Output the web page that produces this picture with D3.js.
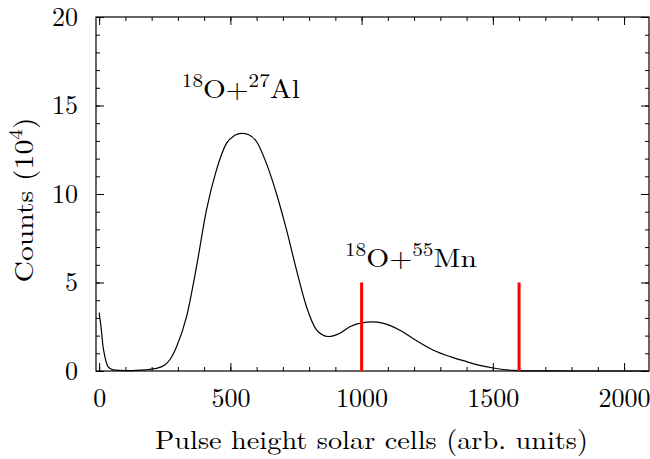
<!DOCTYPE html>
<html>
<head>
<meta charset="utf-8">
<script src="https://cdn.jsdelivr.net/npm/d3@7/dist/d3.min.js"></script>
<style>
  html, body { margin: 0; padding: 0; background: #fff; }
  svg { display: block; }
  text { font-family: "Latin Modern Roman", "CMU Serif", "Liberation Serif", serif; fill: #000; }
</style>
</head>
<body>
<svg id="chart" width="650" height="459"></svg>
<script>
// ---- data ----
const pulseHeight = [0, 7, 15, 22, 34, 53, 80, 110, 140, 174, 212, 250, 270, 295, 333, 371, 409, 447, 485, 515, 543, 570, 600, 638, 676, 714, 752, 790, 828, 850, 873, 895, 917, 955, 1000, 1040, 1080, 1146, 1200, 1272, 1340, 1400, 1450, 1501, 1550, 1577, 1620, 1700, 1800, 1900, 2000, 2090];
const counts = [3.3, 2.5, 1.37, 0.8, 0.25, 0.06, 0.03, 0.02, 0.03, 0.06, 0.13, 0.34, 0.65, 1.37, 3.07, 5.9, 9.1, 11.36, 12.86, 13.3, 13.43, 13.35, 12.95, 11.7, 10.0, 7.97, 5.7, 3.63, 2.32, 2.05, 1.95, 2.0, 2.13, 2.5, 2.72, 2.77, 2.7, 2.3, 1.8, 1.19, 0.8, 0.53, 0.32, 0.17, 0.07, 0.03, 0.01, 0.005, 0, 0, 0, 0];
const gateLines = [1000, 1600];
const gateHeight = 5;
const xTicks = [0, 500, 1000, 1500, 2000];
const yTicks = [0, 5, 10, 15, 20];
const xMinor = d3.range(0, 2100, 100);
const yMinor = d3.range(0, 21, 1);
const xTitle = "Pulse height solar cells (arb. units)";
const annotations = [
  {x: 540, y: 15.45, width: 118, parts: [["18", true], ["O+", false], ["27", true], ["Al", false]]},
  {x: 1188, y: 5.9, width: 132, parts: [["18", true], ["O+", false], ["55", true], ["Mn", false]]}
];

// ---- layout ----
const svg = d3.select("#chart");
const L = 96, R = 649, T = 17, B = 371;
const FS = 26;

const x = d3.scaleLinear().domain([-12, 2095]).range([L, R]);
const y = d3.scaleLinear().domain([0, 20]).range([B, T]);

// frame
svg.append("rect").attr("x", L).attr("y", T).attr("width", R - L).attr("height", B - T)
  .attr("fill", "none").attr("stroke", "#000").attr("stroke-width", 1.2);

function styleAxis(g) {
  g.select(".domain").remove();
  g.selectAll(".tick line").attr("stroke", "#000").attr("stroke-width", 1);
  g.selectAll("text").attr("font-size", FS).attr("font-family", null);
}

// minor ticks on all sides
svg.append("g").attr("transform", `translate(0,${B})`)
  .call(d3.axisBottom(x).tickValues(xMinor).tickSize(-4).tickFormat("")).call(styleAxis);
svg.append("g").attr("transform", `translate(0,${T})`)
  .call(d3.axisTop(x).tickValues(xMinor).tickSize(-4).tickFormat("")).call(styleAxis);
svg.append("g").attr("transform", `translate(${L},0)`)
  .call(d3.axisLeft(y).tickValues(yMinor).tickSize(-4).tickFormat("")).call(styleAxis);
svg.append("g").attr("transform", `translate(${R},0)`)
  .call(d3.axisRight(y).tickValues(yMinor).tickSize(-4).tickFormat("")).call(styleAxis);

// major ticks
svg.append("g").attr("transform", `translate(0,${B})`)
  .call(d3.axisBottom(x).tickValues(xTicks).tickSize(-8).tickPadding(18).tickFormat(d3.format("d"))).call(styleAxis);
svg.append("g").attr("transform", `translate(0,${T})`)
  .call(d3.axisTop(x).tickValues(xTicks).tickSize(-8).tickFormat("")).call(styleAxis);
svg.append("g").attr("transform", `translate(${L},0)`)
  .call(d3.axisLeft(y).tickValues(yTicks).tickSize(-8).tickPadding(18).tickFormat(d3.format("d"))).call(styleAxis);
svg.append("g").attr("transform", `translate(${R},0)`)
  .call(d3.axisRight(y).tickValues(yTicks).tickSize(-8).tickFormat("")).call(styleAxis);

// spectrum line
const pts = pulseHeight.map((v, i) => [v, counts[i]]);
svg.append("path").datum(pts)
  .attr("fill", "none").attr("stroke", "#000").attr("stroke-width", 1.2)
  .attr("d", d3.line().x(d => x(d[0])).y(d => y(d[1])).curve(d3.curveMonotoneX));

// gate lines
svg.selectAll(".gate").data(gateLines).enter().append("line")
  .attr("x1", d => x(d)).attr("x2", d => x(d))
  .attr("y1", y(0)).attr("y2", y(gateHeight))
  .attr("stroke", "#ff0000").attr("stroke-width", 3);

// annotations
annotations.forEach(a => {
  const t = svg.append("text").attr("x", x(a.x)).attr("y", y(a.y))
    .attr("text-anchor", "middle").attr("font-size", FS)
    .attr("textLength", a.width).attr("lengthAdjust", "spacingAndGlyphs");
  let sup = false;
  a.parts.forEach(([s, isSup]) => {
    const ts = t.append("tspan").text(s);
    if (isSup) { ts.attr("font-size", FS * 0.72).attr("dy", sup ? 0 : -FS * 0.42); }
    else { ts.attr("dy", sup ? FS * 0.42 : 0); }
    sup = isSup;
  });
});

// axis titles
svg.append("text").attr("x", 371.5).attr("y", 449)
  .attr("text-anchor", "middle").attr("font-size", FS)
  .attr("textLength", 433).attr("lengthAdjust", "spacingAndGlyphs").text(xTitle);

const yt = svg.append("text")
  .attr("transform", `translate(33,200) rotate(-90)`)
  .attr("text-anchor", "middle").attr("font-size", FS)
  .attr("textLength", 165).attr("lengthAdjust", "spacingAndGlyphs");
yt.append("tspan").text("Counts (10");
yt.append("tspan").text("4").attr("font-size", FS * 0.72).attr("dy", -FS * 0.42);
yt.append("tspan").text(")").attr("dy", FS * 0.42);
</script>
</body>
</html>
